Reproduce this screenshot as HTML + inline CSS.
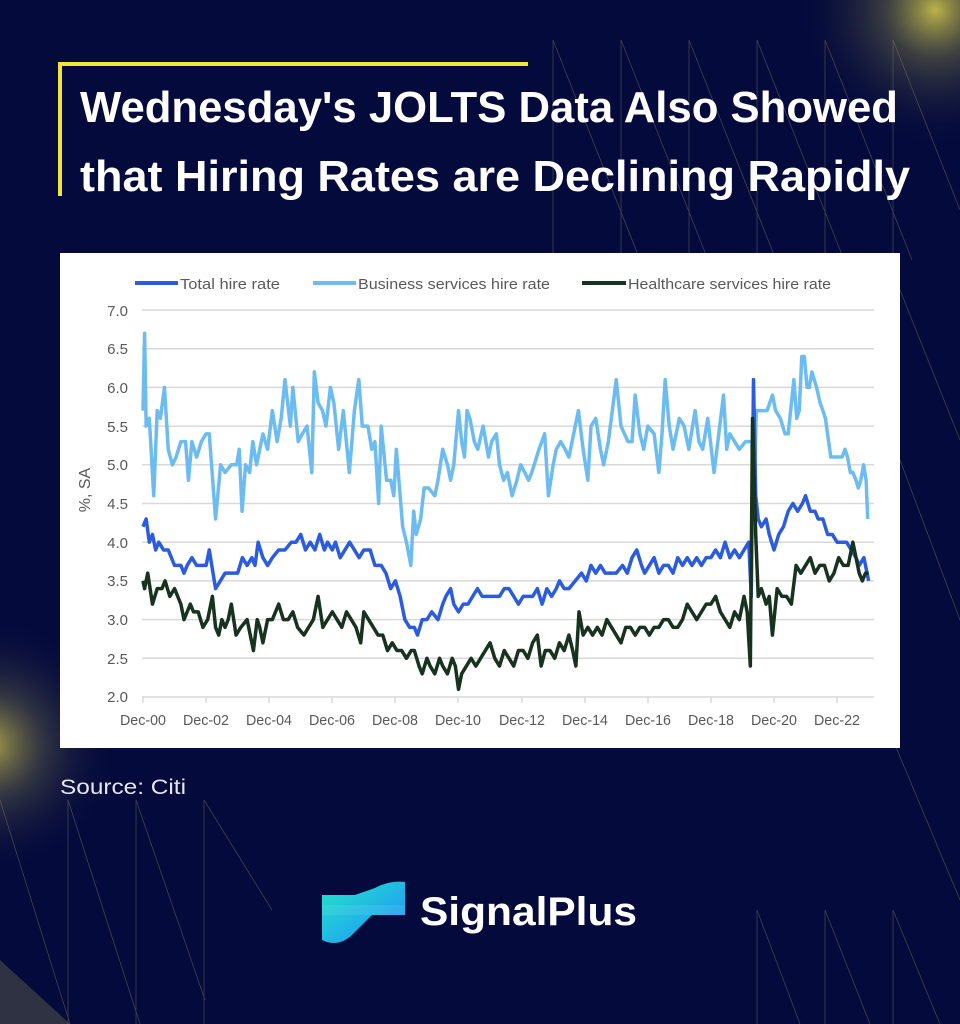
<!DOCTYPE html>
<html><head><meta charset="utf-8"><style>
html,body{margin:0;padding:0;background:#040a3c;}
svg{display:block;}
</style></head><body>
<svg width="960" height="1024" viewBox="0 0 960 1024" xmlns="http://www.w3.org/2000/svg" font-family="'Liberation Sans', sans-serif">
<defs>
<radialGradient id="g1" cx="935" cy="10" r="140" gradientUnits="userSpaceOnUse">
<stop offset="0" stop-color="#cfc64a" stop-opacity="0.9"/><stop offset="0.35" stop-color="#7f7d45" stop-opacity="0.45"/><stop offset="1" stop-color="#040a3c" stop-opacity="0"/></radialGradient>
<radialGradient id="g2" cx="-10" cy="745" r="130" gradientUnits="userSpaceOnUse">
<stop offset="0" stop-color="#cfc64a" stop-opacity="0.8"/><stop offset="0.4" stop-color="#77754a" stop-opacity="0.4"/><stop offset="1" stop-color="#040a3c" stop-opacity="0"/></radialGradient>
<linearGradient id="lg" x1="0" y1="0" x2="1" y2="1"><stop offset="0" stop-color="#22e6c8"/><stop offset="1" stop-color="#1f8cff"/></linearGradient>
</defs>
<rect width="960" height="1024" fill="#040a3c"/>
<rect width="960" height="1024" fill="url(#g1)"/>
<rect width="960" height="1024" fill="url(#g2)"/>
<polygon points="0,960 70,1024 0,1024" fill="#5a5a48" opacity="0.5"/>
<g stroke="#8a8760" stroke-width="0.8" fill="none" opacity="0.45">
<path d="M553,40 V260 M621,40 V260 M689,40 V260 M757,40 V260 M825,40 V260 M893,40 V260"/>
<path d="M553,40 L640,260 M621,40 L708,260 M689,40 L776,260 M757,40 L844,260 M825,40 L912,260 M893,40 L960,210"/>
<path d="M900,290 L960,440 M900,460 L960,620"/>
<path d="M0,800 L70,1024 M68,800 L140,1024 M136,800 L205,1000 M204,800 L272,910"/>
<path d="M68,800 V1024 M136,800 V1024 M204,800 V1024"/>
<path d="M757,910 L800,1024 M825,910 L870,1024 M893,910 L940,1024 M757,910 V1024 M825,910 V1024 M893,910 V1024 M893,740 L960,900"/>
</g>
<path d="M528,64 H60 V196" stroke="#f3e43a" stroke-width="4" fill="none"/>
<g fill="#ffffff" font-weight="bold" font-size="44">
<text x="80" y="122" textLength="818" lengthAdjust="spacingAndGlyphs">Wednesday's JOLTS Data Also Showed</text>
<text x="80" y="191" textLength="830" lengthAdjust="spacingAndGlyphs">that Hiring Rates are Declining Rapidly</text>
</g>
<rect x="60" y="253" width="840" height="495" fill="#ffffff"/>
<g stroke="#d9d9d9" stroke-width="1.5">
<line x1="142" x2="874" y1="310" y2="310"/><line x1="142" x2="874" y1="348.7" y2="348.7"/>
<line x1="142" x2="874" y1="387.4" y2="387.4"/><line x1="142" x2="874" y1="426.1" y2="426.1"/>
<line x1="142" x2="874" y1="464.8" y2="464.8"/><line x1="142" x2="874" y1="503.5" y2="503.5"/>
<line x1="142" x2="874" y1="542.2" y2="542.2"/><line x1="142" x2="874" y1="580.9" y2="580.9"/>
<line x1="142" x2="874" y1="619.6" y2="619.6"/><line x1="142" x2="874" y1="658.3" y2="658.3"/>
<line x1="142" x2="874" y1="697" y2="697"/>
<path d="M143,697v6 M206,697v6 M269,697v6 M332,697v6 M395,697v6 M458,697v6 M522,697v6 M585,697v6 M648,697v6 M711,697v6 M774,697v6 M837,697v6"/>
</g>
<g font-size="15" fill="#595959" text-anchor="end">
<text x="128" y="316">7.0</text><text x="128" y="354">6.5</text><text x="128" y="393">6.0</text>
<text x="128" y="432">5.5</text><text x="128" y="470">5.0</text><text x="128" y="509">4.5</text>
<text x="128" y="548">4.0</text><text x="128" y="586">3.5</text><text x="128" y="625">3.0</text>
<text x="128" y="664">2.5</text><text x="128" y="702">2.0</text>
</g>
<g font-size="15" fill="#595959" text-anchor="middle">
<text x="143" y="725" textLength="46" lengthAdjust="spacingAndGlyphs">Dec-00</text><text x="206" y="725" textLength="46" lengthAdjust="spacingAndGlyphs">Dec-02</text><text x="269" y="725" textLength="46" lengthAdjust="spacingAndGlyphs">Dec-04</text>
<text x="332" y="725" textLength="46" lengthAdjust="spacingAndGlyphs">Dec-06</text><text x="395" y="725" textLength="46" lengthAdjust="spacingAndGlyphs">Dec-08</text><text x="458" y="725" textLength="46" lengthAdjust="spacingAndGlyphs">Dec-10</text>
<text x="522" y="725" textLength="46" lengthAdjust="spacingAndGlyphs">Dec-12</text><text x="585" y="725" textLength="46" lengthAdjust="spacingAndGlyphs">Dec-14</text><text x="648" y="725" textLength="46" lengthAdjust="spacingAndGlyphs">Dec-16</text>
<text x="711" y="725" textLength="46" lengthAdjust="spacingAndGlyphs">Dec-18</text><text x="774" y="725" textLength="46" lengthAdjust="spacingAndGlyphs">Dec-20</text><text x="837" y="725" textLength="46" lengthAdjust="spacingAndGlyphs">Dec-22</text>
</g>
<text transform="translate(90,490) rotate(-90)" font-size="16" fill="#595959" text-anchor="middle">%, SA</text>
<g font-size="15" fill="#595959">
<line x1="135" x2="178" y1="283" y2="283" stroke="#2b5ce0" stroke-width="4"/><text x="180" y="289" textLength="100" lengthAdjust="spacingAndGlyphs">Total hire rate</text>
<line x1="313" x2="356" y1="283" y2="283" stroke="#6cbcf2" stroke-width="4"/><text x="358" y="289" textLength="192" lengthAdjust="spacingAndGlyphs">Business services hire rate</text>
<line x1="582" x2="626" y1="283" y2="283" stroke="#17331f" stroke-width="4"/><text x="628" y="289" textLength="203" lengthAdjust="spacingAndGlyphs">Healthcare services hire rate</text>
</g>
<g transform="translate(143,851.8) scale(31.55,-77.4)" fill="none" stroke-linejoin="round">
<polyline vector-effect="non-scaling-stroke" stroke="#6cbcf2" stroke-width="3.5" points="0,5.7 0.05,6.7 0.1,5.5 0.2,5.6 0.34,4.6 0.45,5.7 0.55,5.6 0.68,6.0 0.8,5.2 0.93,5.0 1.05,5.1 1.2,5.3 1.35,5.3 1.44,4.8 1.55,5.3 1.7,5.1 1.85,5.3 2.0,5.4 2.1,5.4 2.3,4.3 2.46,5.0 2.6,4.9 2.8,5.0 2.97,5.0 3.05,5.2 3.14,4.4 3.25,5.0 3.38,4.9 3.48,5.3 3.6,5.0 3.8,5.4 3.95,5.2 4.1,5.7 4.25,5.3 4.38,5.6 4.5,6.1 4.67,5.5 4.75,6.0 4.92,5.3 5.05,5.4 5.2,5.5 5.35,4.9 5.43,6.2 5.55,5.8 5.69,5.7 5.8,5.5 5.94,6.0 6.05,5.8 6.2,5.2 6.35,5.7 6.54,4.9 6.7,5.7 6.84,6.1 6.95,5.5 7.13,5.5 7.25,5.2 7.35,5.3 7.47,4.5 7.55,5.5 7.72,4.8 7.85,4.8 7.95,4.6 8.03,5.2 8.13,4.7 8.23,4.2 8.35,4.0 8.49,3.7 8.58,4.4 8.66,4.1 8.8,4.3 8.91,4.7 9.05,4.7 9.25,4.6 9.35,4.8 9.5,5.2 9.65,5.0 9.75,4.8 9.85,5.0 10.0,5.7 10.1,5.3 10.19,5.1 10.27,5.7 10.36,5.6 10.5,5.3 10.61,5.2 10.78,5.5 10.95,5.1 11.05,5.3 11.2,5.4 11.3,5.0 11.43,4.8 11.55,4.9 11.7,4.6 11.85,4.8 11.97,5.0 12.1,4.9 12.22,4.8 12.32,4.9 12.4,5.0 12.55,5.2 12.73,5.4 12.85,4.6 13.0,5.0 13.1,5.2 13.24,5.3 13.38,5.2 13.5,5.1 13.65,5.4 13.8,5.7 13.95,5.2 14.1,4.8 14.2,5.5 14.35,5.6 14.5,5.2 14.6,5.0 14.75,5.3 15.0,6.1 15.15,5.5 15.37,5.3 15.5,5.3 15.6,5.9 15.75,5.4 15.87,5.2 16.0,5.5 16.2,5.4 16.35,4.9 16.45,5.4 16.55,6.1 16.68,5.5 16.8,5.2 17.0,5.6 17.15,5.5 17.3,5.2 17.5,5.7 17.62,5.3 17.74,5.2 17.9,5.6 18.1,4.9 18.25,5.4 18.4,5.9 18.5,5.2 18.6,5.4 18.75,5.3 18.9,5.2 19.1,5.3 19.3,5.3 19.35,4.3 19.44,5.7 19.6,5.7 19.78,5.7 19.95,5.9 20.05,5.7 20.2,5.6 20.35,5.4 20.45,5.4 20.63,6.1 20.72,5.6 20.8,5.7 20.88,6.4 20.96,6.4 21.05,6.0 21.12,6.0 21.2,6.2 21.35,6.0 21.46,5.8 21.55,5.7 21.63,5.6 21.8,5.1 22.0,5.1 22.16,5.1 22.25,5.2 22.33,5.1 22.42,4.9 22.5,4.9 22.6,4.8 22.67,4.7 22.75,4.8 22.84,5.0 22.92,4.8 22.97,4.3"/>
<polyline vector-effect="non-scaling-stroke" stroke="#2b5ce0" stroke-width="3.5" points="0,4.2 0.1,4.3 0.2,4.0 0.3,4.1 0.4,3.9 0.5,4.0 0.65,3.9 0.8,3.9 1.0,3.7 1.2,3.7 1.3,3.6 1.4,3.7 1.55,3.8 1.7,3.7 1.85,3.7 2.0,3.7 2.1,3.9 2.3,3.4 2.45,3.5 2.6,3.6 2.8,3.6 3.0,3.6 3.15,3.8 3.3,3.7 3.45,3.8 3.55,3.7 3.65,4.0 3.8,3.8 3.95,3.7 4.1,3.8 4.3,3.9 4.5,3.9 4.7,4.0 4.85,4.0 5.0,4.1 5.15,3.9 5.3,4.0 5.45,3.9 5.6,4.1 5.75,3.9 5.85,4.0 6.0,3.9 6.1,4.0 6.25,3.8 6.4,3.9 6.55,4.0 6.7,3.9 6.85,3.8 7.0,3.9 7.2,3.9 7.35,3.7 7.55,3.7 7.7,3.6 7.85,3.4 8.0,3.5 8.15,3.3 8.3,3.0 8.45,2.9 8.6,2.9 8.7,2.8 8.85,3.0 9.0,3.0 9.15,3.1 9.35,3.0 9.5,3.2 9.6,3.3 9.75,3.4 9.85,3.2 10.0,3.1 10.15,3.2 10.3,3.2 10.45,3.3 10.6,3.4 10.75,3.3 10.9,3.3 11.1,3.3 11.3,3.3 11.45,3.4 11.6,3.4 11.75,3.3 11.9,3.2 12.05,3.3 12.2,3.3 12.35,3.3 12.5,3.4 12.65,3.2 12.8,3.4 12.95,3.3 13.1,3.4 13.2,3.5 13.35,3.4 13.5,3.4 13.7,3.5 13.9,3.6 14.05,3.5 14.2,3.7 14.35,3.6 14.5,3.7 14.65,3.6 14.8,3.6 15.0,3.6 15.2,3.7 15.35,3.6 15.5,3.8 15.65,3.9 15.8,3.7 15.9,3.6 16.05,3.7 16.2,3.8 16.35,3.6 16.5,3.7 16.65,3.7 16.8,3.6 16.95,3.8 17.1,3.7 17.25,3.8 17.4,3.7 17.55,3.8 17.7,3.7 17.85,3.8 18.0,3.8 18.15,3.9 18.3,3.8 18.45,4.0 18.6,3.8 18.75,3.9 18.9,3.8 19.05,3.9 19.2,4.0 19.28,3.3 19.35,6.1 19.42,4.6 19.5,4.3 19.6,4.2 19.75,4.3 19.85,4.1 20.0,3.9 20.15,4.1 20.3,4.2 20.45,4.4 20.6,4.5 20.75,4.4 20.9,4.5 21.0,4.6 21.15,4.4 21.3,4.4 21.4,4.3 21.55,4.3 21.7,4.1 21.85,4.1 22.0,4.0 22.15,4.0 22.3,4.0 22.45,3.9 22.6,3.8 22.7,3.7 22.85,3.8 22.95,3.6 23.0,3.5"/>
<polyline vector-effect="non-scaling-stroke" stroke="#17331f" stroke-width="3.5" points="0,3.5 0.05,3.4 0.15,3.6 0.3,3.2 0.45,3.4 0.6,3.4 0.7,3.5 0.85,3.3 1.0,3.4 1.2,3.2 1.3,3.0 1.4,3.1 1.5,3.2 1.6,3.1 1.75,3.1 1.9,2.9 2.05,3.0 2.2,3.3 2.3,2.9 2.4,2.8 2.5,3.0 2.6,2.9 2.7,3.0 2.8,3.2 2.95,2.8 3.1,2.9 3.3,3.0 3.5,2.6 3.62,3.0 3.7,2.9 3.8,2.7 3.95,3.0 4.1,3.0 4.3,3.2 4.45,3.0 4.6,3.0 4.75,3.1 4.9,2.9 5.1,2.8 5.25,2.9 5.4,3.0 5.55,3.3 5.7,2.9 5.85,3.0 6.0,3.1 6.15,3.0 6.3,2.9 6.45,3.1 6.6,3.0 6.75,2.9 6.9,2.7 7.0,3.1 7.15,3.0 7.3,2.9 7.45,2.8 7.6,2.8 7.75,2.6 7.9,2.7 8.05,2.6 8.2,2.6 8.35,2.5 8.5,2.6 8.6,2.6 8.75,2.4 8.85,2.3 9.0,2.5 9.1,2.4 9.25,2.3 9.4,2.5 9.5,2.4 9.65,2.3 9.8,2.5 9.9,2.4 10.0,2.1 10.1,2.3 10.25,2.4 10.4,2.5 10.55,2.4 10.7,2.5 10.85,2.6 11.0,2.7 11.15,2.5 11.3,2.4 11.45,2.6 11.6,2.5 11.75,2.4 11.9,2.6 12.05,2.6 12.2,2.5 12.35,2.7 12.5,2.8 12.62,2.4 12.75,2.6 12.9,2.6 13.05,2.5 13.2,2.7 13.35,2.6 13.5,2.8 13.62,2.6 13.72,2.4 13.82,3.1 13.95,2.8 14.1,2.9 14.25,2.8 14.4,2.9 14.55,2.8 14.7,3.0 14.85,2.9 15.0,2.8 15.15,2.7 15.3,2.9 15.45,2.9 15.6,2.8 15.75,2.9 15.9,2.9 16.05,2.8 16.2,2.9 16.35,2.9 16.5,3.0 16.65,3.0 16.8,2.9 16.95,2.9 17.1,3.0 17.25,3.2 17.4,3.1 17.55,3.0 17.7,3.1 17.85,3.2 18.0,3.2 18.15,3.3 18.3,3.1 18.45,3.0 18.6,2.9 18.75,3.1 18.9,3.0 19.05,3.3 19.15,3.1 19.25,2.4 19.32,5.6 19.42,4.1 19.5,3.3 19.6,3.4 19.75,3.2 19.85,3.3 19.95,2.8 20.1,3.4 20.25,3.3 20.4,3.3 20.55,3.2 20.7,3.7 20.85,3.6 21.0,3.7 21.15,3.8 21.3,3.6 21.45,3.7 21.6,3.7 21.75,3.5 21.9,3.6 22.05,3.8 22.2,3.7 22.35,3.7 22.5,4.0 22.6,3.8 22.7,3.6 22.8,3.5 22.9,3.6 23.0,3.6"/>
</g>
<text x="60" y="794" font-size="21" fill="#e6e6ee" textLength="126" lengthAdjust="spacingAndGlyphs">Source: Citi</text>
<g>
<path d="M322,895 H355 L375,888 Q390,880 405,882 V915 H372 L352,935 Q338,948 322,940 Z" fill="url(#lg)"/>
<path d="M322,905 H405 V915 H322 Z" fill="#ffffff" opacity="0.08"/>
</g>
<text x="420" y="925" font-size="40" font-weight="bold" fill="#ffffff" textLength="217" lengthAdjust="spacingAndGlyphs">SignalPlus</text>
</svg>
</body></html>
